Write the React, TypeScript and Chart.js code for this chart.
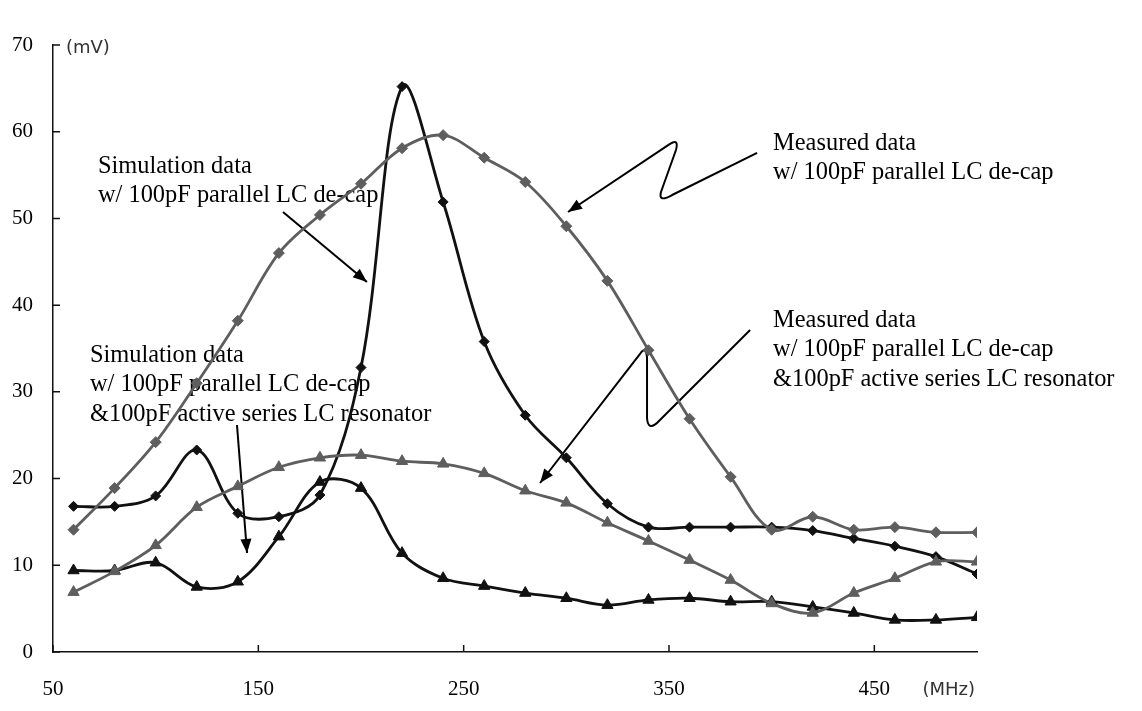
import React, { useEffect, useRef } from 'react';
import { Chart, registerables } from 'chart.js';

Chart.register(...registerables);

// ---- Data ----
const freqMHz = [60, 80, 100, 120, 140, 160, 180, 200, 220, 240, 260, 280, 300, 320, 340, 360, 380, 400, 420, 440, 460, 480, 500];
const measuredDecap = [14.1, 18.9, 24.2, 31.0, 38.2, 46.0, 50.4, 54.0, 58.1, 59.6, 57.0, 54.2, 49.1, 42.8, 34.8, 26.9, 20.2, 14.1, 15.6, 14.1, 14.4, 13.8, 13.8];
const simDecap = [16.8, 16.8, 18.0, 23.3, 16.0, 15.6, 18.1, 32.8, 65.2, 51.9, 35.8, 27.3, 22.4, 17.1, 14.4, 14.4, 14.4, 14.4, 14.0, 13.1, 12.2, 11.0, 9.0];
const measuredResonator = [6.9, 9.3, 12.3, 16.7, 19.1, 21.3, 22.4, 22.7, 22.0, 21.7, 20.6, 18.6, 17.2, 14.9, 12.8, 10.6, 8.3, 5.6, 4.5, 6.8, 8.5, 10.4, 10.4];
const simResonator = [9.4, 9.4, 10.3, 7.5, 8.1, 13.3, 19.6, 18.9, 11.4, 8.5, 7.6, 6.8, 6.2, 5.4, 6.0, 6.2, 5.8, 5.8, 5.2, 4.5, 3.7, 3.7, 4.0];
const xTickValues = [50, 150, 250, 350, 450];
const yTickValues = [0, 10, 20, 30, 40, 50, 60, 70];
const xUnit = '(MHz)';
const yUnit = '(mV)';

// Annotation texts, anchored in data units (MHz, mV) at first baseline
const notes = [
  { x: 71.9, y: 55.24, lines: ['Simulation data', 'w/ 100pF parallel LC de-cap'] },
  { x: 400.7, y: 57.89, lines: ['Measured data', 'w/ 100pF parallel LC de-cap'] },
  { x: 68.0, y: 33.44, lines: ['Simulation data', 'w/ 100pF parallel LC de-cap', '&100pF active series LC resonator'] },
  { x: 400.7, y: 37.48, lines: ['Measured data', 'w/ 100pF parallel LC de-cap', '&100pF active series LC resonator'] },
];

// Arrow paths in data units
type Cmd = (string | number)[];
const arrows: Cmd[][] = [
  [['M', 162.0, 50.74], ['L', 202.9, 42.67]],
  [['M', 139.6, 26.18], ['L', 144.5, 11.42]],
  [
    ['M', 392.9, 57.55], ['L', 351.5, 52.70], ['Q', 344.6, 51.78, 346.1, 53.05],
    ['L', 353.4, 57.89], ['Q', 354.9, 59.28, 350.5, 58.59], ['L', 300.8, 50.74],
  ],
  [
    ['M', 389.5, 37.14], ['L', 345.6, 26.76], ['Q', 339.8, 25.26, 339.3, 26.99],
    ['L', 339.3, 33.91], ['Q', 338.8, 35.41, 335.9, 34.37], ['L', 287.2, 19.49],
  ],
];

const GRAY = '#5e5e5e';
const BLACK = '#111111';
const SERIF = '"Liberation Serif", "Times New Roman", serif';

function series(vals: number[]) {
  return freqMHz.map((x, i) => ({ x, y: vals[i] }));
}

const annotationPlugin = {
  id: 'annotations',
  beforeDatasetsDraw(chart: any) {
    const { ctx, scales } = chart;
    const sx = scales.x;
    const sy = scales.y;
    const px = (v: number) => sx.getPixelForValue(v);
    const py = (v: number) => sy.getPixelForValue(v);
    ctx.save();
    ctx.fillStyle = '#000';
    ctx.font = `24.4px ${SERIF}`;
    ctx.textAlign = 'left';
    ctx.textBaseline = 'alphabetic';
    notes.forEach((n) => {
      n.lines.forEach((t, i) => ctx.fillText(t, px(n.x), py(n.y) + i * 29.3));
    });
    ctx.strokeStyle = '#000';
    ctx.lineWidth = 2;
    ctx.lineJoin = 'round';
    arrows.forEach((path) => {
      ctx.beginPath();
      let lastX = 0, lastY = 0, prevX = 0, prevY = 0;
      path.forEach((c) => {
        const op = c[0] as string;
        const a = c.slice(1) as number[];
        if (op === 'M') { ctx.moveTo(px(a[0]), py(a[1])); prevX = px(a[0]); prevY = py(a[1]); lastX = prevX; lastY = prevY; }
        else if (op === 'L') { prevX = lastX; prevY = lastY; lastX = px(a[0]); lastY = py(a[1]); ctx.lineTo(lastX, lastY); }
        else if (op === 'Q') { prevX = px(a[0]); prevY = py(a[1]); lastX = px(a[2]); lastY = py(a[3]); ctx.quadraticCurveTo(prevX, prevY, lastX, lastY); }
      });
      ctx.stroke();
      const ang = Math.atan2(lastY - prevY, lastX - prevX);
      const len = 14, hw = 5.5;
      ctx.beginPath();
      ctx.moveTo(lastX, lastY);
      ctx.lineTo(lastX - len * Math.cos(ang) + hw * Math.sin(ang), lastY - len * Math.sin(ang) - hw * Math.cos(ang));
      ctx.lineTo(lastX - len * Math.cos(ang) - hw * Math.sin(ang), lastY - len * Math.sin(ang) + hw * Math.cos(ang));
      ctx.closePath();
      ctx.fillStyle = '#000';
      ctx.fill();
    });
    ctx.restore();
  },
  afterDraw(chart: any) {
    const { ctx, scales, chartArea } = chart;
    const sx = scales.x;
    const sy = scales.y;
    ctx.save();
    ctx.strokeStyle = '#111';
    ctx.lineWidth = 1.5;
    ctx.beginPath();
    sy.ticks.forEach((t: any) => {
      const y = sy.getPixelForValue(t.value);
      ctx.moveTo(chartArea.left, y);
      ctx.lineTo(chartArea.left + 7, y);
    });
    sx.ticks.forEach((t: any) => {
      const x = sx.getPixelForValue(t.value);
      ctx.moveTo(x, chartArea.bottom);
      ctx.lineTo(x, chartArea.bottom - 7);
    });
    ctx.stroke();
    ctx.fillStyle = '#333';
    ctx.font = '18px "DejaVu Sans", sans-serif';
    ctx.textBaseline = 'middle';
    ctx.textAlign = 'left';
    ctx.fillText(yUnit, chartArea.left + 13, chartArea.top + 3);
    ctx.textAlign = 'right';
    ctx.fillText(xUnit, chartArea.right - 2, chartArea.bottom + 38);
    ctx.restore();
  },
};

export default function App() {
  const ref = useRef<HTMLCanvasElement>(null);
  useEffect(() => {
    document.body.style.margin = '0';
    const canvas = ref.current!;
    const common = { borderWidth: 2.8, tension: 0.35, pointBorderWidth: 1, fill: false };
    const chart = new Chart(canvas, {
      type: 'line',
      data: {
        datasets: [
          { ...common, label: 'Measured data w/ 100pF parallel LC de-cap', data: series(measuredDecap), borderColor: GRAY, backgroundColor: GRAY, pointBorderColor: GRAY, pointStyle: 'rectRot', pointRadius: 5.5 },
          { ...common, label: 'Measured data w/ de-cap & resonator', data: series(measuredResonator), borderColor: GRAY, backgroundColor: GRAY, pointBorderColor: GRAY, pointStyle: 'triangle', pointRadius: 6.5 },
          { ...common, label: 'Simulation data w/ 100pF parallel LC de-cap', data: series(simDecap), borderColor: BLACK, backgroundColor: BLACK, pointBorderColor: BLACK, pointStyle: 'rectRot', pointRadius: 5 },
          { ...common, label: 'Simulation data w/ de-cap & resonator', data: series(simResonator), borderColor: BLACK, backgroundColor: BLACK, pointBorderColor: BLACK, pointStyle: 'triangle', pointRadius: 6.5 },
        ] as any,
      },
      options: {
        animation: false,
        responsive: false,
        devicePixelRatio: 1,
        layout: { padding: { left: 0, right: 165, top: 45, bottom: 0 } },
        plugins: { legend: { display: false }, tooltip: { enabled: false } },
        scales: {
          x: {
            type: 'linear',
            min: 50,
            max: 500,
            afterBuildTicks: (s: any) => { s.ticks = xTickValues.map((v) => ({ value: v })); },
            afterFit: (s: any) => { s.height = 59; },
            ticks: { color: '#000', font: { family: SERIF, size: 21 }, padding: 25, autoSkip: false, maxRotation: 0 },
            grid: { display: false, drawTicks: false },
            border: { display: true, color: '#111', width: 1.5 },
          },
          y: {
            type: 'linear',
            min: 0,
            max: 70,
            afterBuildTicks: (s: any) => { s.ticks = yTickValues.map((v) => ({ value: v })); },
            afterFit: (s: any) => { s.width = 53; },
            ticks: { color: '#000', font: { family: SERIF, size: 21 }, padding: 20 },
            grid: { display: false, drawTicks: false },
            border: { display: true, color: '#111', width: 1.5 },
          },
        },
      } as any,
      plugins: [annotationPlugin],
    });
    return () => chart.destroy();
  }, []);
  return <canvas ref={ref} width={1142} height={711} style={{ display: 'block' }} />;
}
